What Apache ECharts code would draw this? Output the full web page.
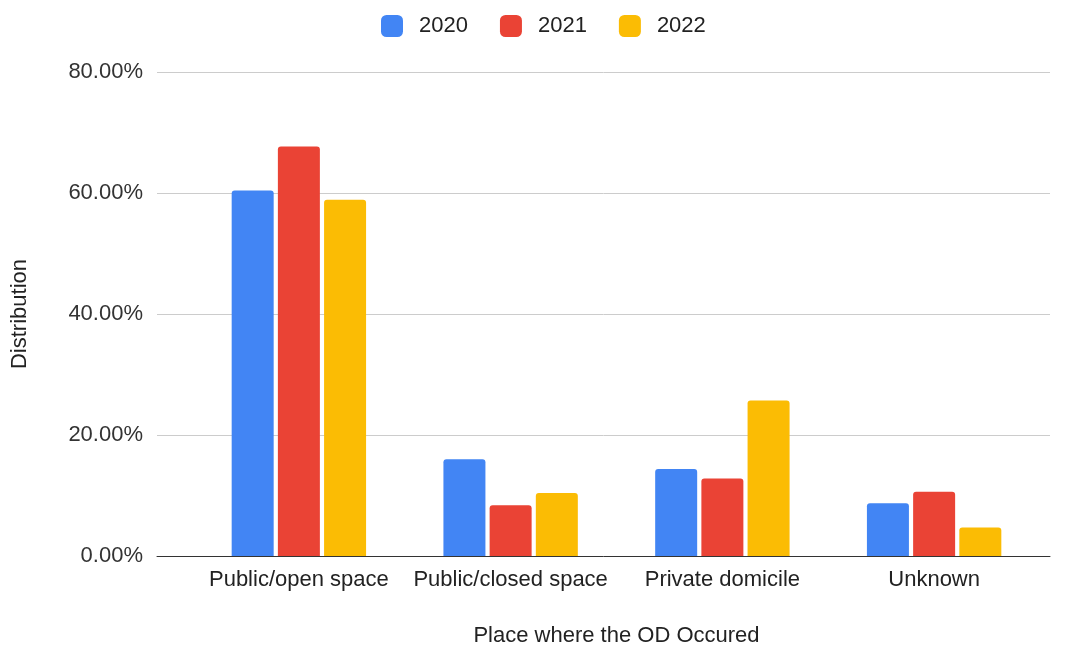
<!DOCTYPE html>
<html><head><meta charset="utf-8">
<script src="https://cdn.jsdelivr.net/npm/echarts@6/dist/echarts.min.js"></script>
<style>html,body{margin:0;padding:0;background:#fff}#c{width:1067px;height:645px}</style>
</head><body><div id="c"></div>
<script>
const categories = ['Public/open space', 'Public/closed space', 'Private domicile', 'Unknown'];
const seriesNames = ['2020', '2021', '2022'];
const values2020 = [60.4, 16.0, 14.4, 8.7];
const values2021 = [67.7, 8.4, 12.8, 10.6];
const values2022 = [58.9, 10.4, 25.7, 4.7];
const yTicks = [0, 20, 40, 60, 80];
const colors = ['#4285F4', '#EA4335', '#FBBC04'];
const FONT = '"Liberation Sans", Arial, sans-serif';

const chart = echarts.init(document.getElementById('c'));
const allVals = [values2020, values2021, values2022];
chart.setOption({
  animation: false,
  textStyle: { fontFamily: FONT },
  color: colors,
  legend: {
    data: seriesNames, left: 381, top: 15, padding: 0, itemWidth: 22, itemHeight: 22,
    itemGap: 32, icon: 'roundRect',
    textStyle: { fontSize: 22, color: '#222', fontFamily: FONT, padding: [3, 0, 0, 11] }
  },
  grid: [
    { left: 157, right: 17, top: 72, bottom: 89, containLabel: false, outerBoundsMode: 'none' },
    { left: 193, right: 27, top: 72, bottom: 89, containLabel: false, outerBoundsMode: 'none' }
  ],
  xAxis: [
    { gridIndex: 0, type: 'value', min: 0, max: 1, axisLabel: { show: false }, axisTick: { show: false }, splitLine: { show: false },
      axisLine: { show: true, lineStyle: { color: '#333', width: 1 } } },
    { gridIndex: 1, type: 'category', data: categories, axisLine: { show: false }, axisTick: { show: false },
      axisLabel: { interval: 0, fontSize: 22, color: '#222', margin: 13, fontFamily: FONT },
      name: 'Place where the OD Occured', nameLocation: 'middle', nameGap: 69,
      nameTextStyle: { fontSize: 22, color: '#222', fontFamily: FONT } }
  ],
  yAxis: [
    { gridIndex: 0, type: 'value', min: 0, max: 80, interval: 20,
      axisLabel: { fontSize: 22, color: '#333', margin: 14, fontFamily: FONT, formatter: v => v.toFixed(2) + '%' },
      splitLine: { lineStyle: { color: '#ccc', width: 1 } }, axisLine: { show: false }, axisTick: { show: false },
      name: 'Distribution', nameLocation: 'middle', nameGap: 126, nameRotate: 90,
      nameTextStyle: { fontSize: 22, color: '#222', fontFamily: FONT } },
    { gridIndex: 1, type: 'value', min: 0, max: 80, interval: 20, show: false }
  ],
  series: seriesNames.map((n, i) => ({
    name: n, type: 'bar', xAxisIndex: 1, yAxisIndex: 1, data: allVals[i],
    barWidth: 42, barGap: '10%', itemStyle: { color: colors[i], borderRadius: [3, 3, 0, 0] }
  }))
});
</script></body></html>
